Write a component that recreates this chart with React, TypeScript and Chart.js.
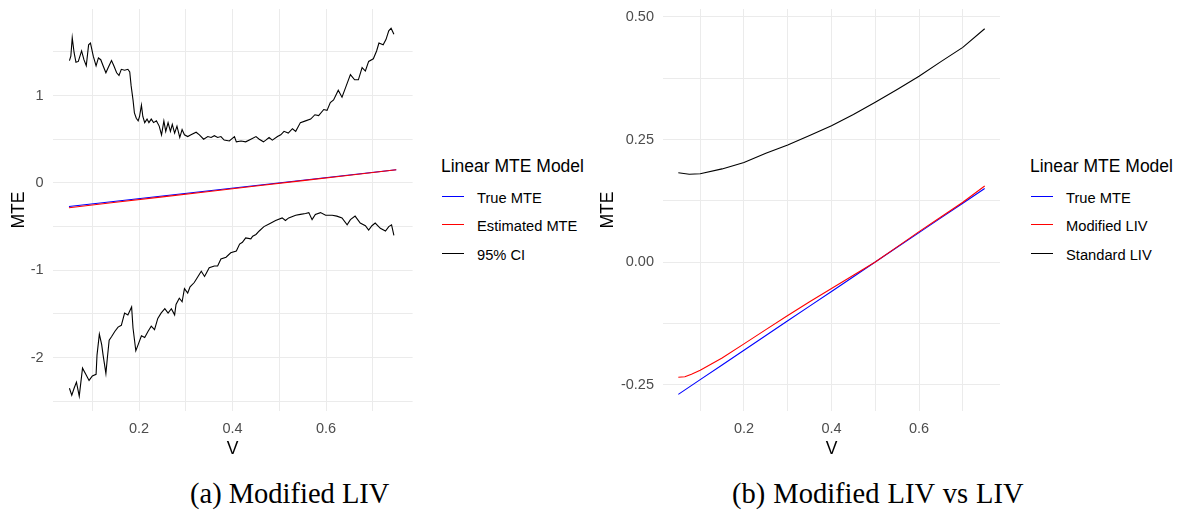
import React, { useEffect, useRef } from "react";
import { Chart, registerables } from "chart.js";

Chart.register(...registerables);

// ---------- Panel (a): Modified LIV ----------
const A_TRUE_V = [0.05, 0.15, 0.25, 0.35, 0.45, 0.55, 0.65, 0.75];
const A_TRUE_MTE = [-0.27, -0.21, -0.15, -0.09, -0.03, 0.03, 0.09, 0.15];
const A_EST_V = [0.05, 0.15, 0.25, 0.35, 0.45, 0.55, 0.65, 0.75];
const A_EST_MTE = [-0.285, -0.222, -0.16, -0.098, -0.036, 0.026, 0.088, 0.15];

const A_UPPER_V = [
  0.051, 0.054, 0.057, 0.061, 0.065, 0.07, 0.077, 0.082, 0.087, 0.092, 0.096, 0.102, 0.108, 0.113,
  0.118, 0.123, 0.129, 0.134, 0.141, 0.146, 0.152, 0.157, 0.162, 0.169, 0.176, 0.18, 0.183, 0.187,
  0.19, 0.194, 0.198, 0.201, 0.205, 0.208, 0.212, 0.217, 0.221, 0.226, 0.231, 0.237, 0.243, 0.248,
  0.253, 0.257, 0.262, 0.267, 0.271, 0.276, 0.281, 0.287, 0.292, 0.297, 0.304, 0.311, 0.322, 0.329,
  0.338, 0.347, 0.354, 0.361, 0.368, 0.375, 0.382, 0.393, 0.404, 0.408, 0.418, 0.428, 0.439, 0.45,
  0.457, 0.466, 0.471, 0.478, 0.485, 0.496, 0.503, 0.51, 0.519, 0.528, 0.535, 0.545, 0.556, 0.567,
  0.576, 0.584, 0.595, 0.602, 0.609, 0.616, 0.626, 0.634, 0.643, 0.652, 0.661, 0.669, 0.677, 0.684,
  0.691, 0.701, 0.708, 0.713, 0.722, 0.728, 0.734, 0.739, 0.745,
];
const A_UPPER_CI = [
  1.4, 1.45, 1.66, 1.49, 1.38, 1.39, 1.51, 1.41, 1.34, 1.58, 1.6, 1.45, 1.34, 1.43,
  1.41, 1.34, 1.26, 1.32, 1.4, 1.34, 1.26, 1.23, 1.3, 1.29, 1.3, 1.27, 1.11, 0.95,
  0.8, 0.74, 0.71, 0.76, 0.89, 0.76, 0.69, 0.73, 0.69, 0.73, 0.69, 0.71, 0.65, 0.55,
  0.71, 0.59, 0.69, 0.59, 0.67, 0.57, 0.65, 0.52, 0.61, 0.55, 0.53, 0.55, 0.58, 0.55,
  0.5, 0.53, 0.52, 0.54, 0.52, 0.53, 0.49, 0.48, 0.53, 0.47, 0.48, 0.47, 0.5, 0.53,
  0.5, 0.47, 0.49, 0.52, 0.49, 0.53, 0.55, 0.59, 0.57, 0.62, 0.59, 0.69, 0.71, 0.73,
  0.78, 0.77, 0.84, 0.83, 0.92, 0.95, 1.06, 0.98, 1.11, 1.24, 1.18, 1.18, 1.32, 1.28,
  1.39, 1.42, 1.51, 1.6, 1.58, 1.64, 1.74, 1.77, 1.7,
];

const A_LOWER_V = [
  0.051, 0.056, 0.061, 0.066, 0.072, 0.079, 0.086, 0.093, 0.1, 0.108, 0.11, 0.115, 0.12, 0.123,
  0.129, 0.132, 0.136, 0.141, 0.148, 0.155, 0.162, 0.169, 0.176, 0.184, 0.187, 0.193, 0.198, 0.205,
  0.212, 0.219, 0.226, 0.233, 0.24, 0.247, 0.255, 0.262, 0.269, 0.276, 0.279, 0.286, 0.292, 0.297,
  0.304, 0.309, 0.318, 0.326, 0.333, 0.34, 0.35, 0.361, 0.368, 0.375, 0.386, 0.396, 0.408, 0.415,
  0.421, 0.428, 0.439, 0.443, 0.45, 0.457, 0.467, 0.478, 0.492, 0.506, 0.513, 0.52, 0.535, 0.545,
  0.556, 0.563, 0.57, 0.577, 0.588, 0.599, 0.613, 0.623, 0.634, 0.645, 0.652, 0.662, 0.673, 0.684,
  0.691, 0.698, 0.705, 0.716, 0.727, 0.734, 0.74, 0.745,
];
const A_LOWER_CI = [
  -2.35, -2.43, -2.35, -2.28, -2.44, -2.12, -2.19, -2.26, -2.21, -2.19, -1.97, -1.73, -1.85, -1.97,
  -2.18, -2.01, -1.8, -1.76, -1.7, -1.65, -1.63, -1.49, -1.51, -1.42, -1.66, -1.92, -1.85, -1.75,
  -1.77, -1.7, -1.64, -1.68, -1.55, -1.49, -1.44, -1.49, -1.44, -1.51, -1.39, -1.32, -1.36, -1.21,
  -1.26, -1.19, -1.14, -1.07, -1.01, -1.07, -0.97, -0.95, -0.95, -0.87, -0.85, -0.8, -0.78, -0.7,
  -0.68, -0.63, -0.64, -0.61, -0.59, -0.55, -0.5, -0.47, -0.43, -0.4, -0.43, -0.4, -0.37, -0.36,
  -0.35, -0.34, -0.42, -0.36, -0.34, -0.37, -0.37, -0.38, -0.4, -0.48, -0.42, -0.38, -0.46, -0.49,
  -0.54, -0.49, -0.46, -0.52, -0.55, -0.5, -0.48, -0.6,
];

const A_X_TICKS = [0.1, 0.2, 0.3, 0.4, 0.5, 0.6, 0.7];
const A_X_LABELS = ["", "0.2", "", "0.4", "", "0.6", ""];
const A_Y_TICKS = [-2.5, -2, -1.5, -1, -0.5, 0, 0.5, 1, 1.5];
const A_Y_LABELS = ["", "-2", "", "-1", "", "0", "", "1", ""];
const A_LEGEND = ["True MTE", "Estimated MTE", "95% CI"];

// ---------- Panel (b): Modified LIV vs LIV ----------
const B_TRUE_V = [0.05, 0.1, 0.15, 0.2, 0.25, 0.3, 0.35, 0.4, 0.45, 0.5, 0.55, 0.6, 0.65, 0.7, 0.75];
const B_TRUE_MTE = [-0.27, -0.24, -0.21, -0.18, -0.15, -0.12, -0.09, -0.06, -0.03, 0, 0.03, 0.06, 0.09, 0.12, 0.15];
const B_MOD_V = [0.05, 0.065, 0.08, 0.1, 0.15, 0.2, 0.25, 0.3, 0.35, 0.4, 0.45, 0.5, 0.55, 0.6, 0.65, 0.7, 0.75];
const B_MOD_LIV = [-0.235, -0.234, -0.229, -0.221, -0.196, -0.167, -0.138, -0.109, -0.081, -0.054, -0.027, 0.0, 0.031, 0.062, 0.092, 0.122, 0.155];
const B_STD_V = [0.05, 0.075, 0.1, 0.15, 0.2, 0.25, 0.3, 0.35, 0.4, 0.45, 0.5, 0.55, 0.6, 0.65, 0.7, 0.75];
const B_STD_LIV = [0.182, 0.179, 0.18, 0.19, 0.203, 0.222, 0.239, 0.258, 0.278, 0.301, 0.326, 0.352, 0.379, 0.409, 0.438, 0.476];

const B_X_TICKS = [0.1, 0.2, 0.3, 0.4, 0.5, 0.6, 0.7];
const B_X_LABELS = ["", "0.2", "", "0.4", "", "0.6", ""];
const B_Y_TICKS = [-0.25, -0.125, 0, 0.125, 0.25, 0.375, 0.5];
const B_Y_LABELS = ["-0.25", "", "0.00", "", "0.25", "", "0.50"];
const B_LEGEND = ["True MTE", "Modified LIV", "Standard LIV"];

const LEGEND_TITLE = "Linear MTE Model";
const CAPTION_A = "(a) Modified LIV";
const CAPTION_B = "(b) Modified LIV vs LIV";

const BLUE = "#0000FF";
const RED = "#FF0000";
const BLACK = "#000000";
const GRID = "#EBEBEB";
const TICK_COLOR = "#4D4D4D";
const SANS = '"Liberation Sans", Arial, sans-serif';
const SERIF = '"Liberation Serif", "Times New Roman", serif';

const pts = (xs: number[], ys: number[]) => xs.map((x, i) => ({ x, y: ys[i] }));

const line = (label: string, data: any[], color: string, order: number) => ({
  label,
  data,
  borderColor: color,
  backgroundColor: color,
  borderWidth: 1.1,
  pointRadius: 0,
  showLine: true,
  tension: 0,
  order,
});

type PlotProps = {
  left: number;
  width: number;
  axisWidth: number;
  padRight: number;
  yTitlePad: number;
  datasets: any[];
  xRange: [number, number];
  yRange: [number, number];
  xTicks: number[];
  xLabels: string[];
  yTicks: number[];
  yLabels: string[];
};

const CANVAS_H = 460;
const AREA_TOP = 9;
const AREA_BOTTOM = 411;

function Plot(p: PlotProps) {
  const ref = useRef<HTMLCanvasElement | null>(null);
  useEffect(() => {
    if (!ref.current) return;
    const tickFont = { family: SANS, size: 14.5 };
    const titleFont = { family: SANS, size: 17.5 };
    const chart = new Chart(ref.current, {
      type: "scatter",
      data: { datasets: p.datasets },
      options: {
        animation: false,
        responsive: false,
        devicePixelRatio: 1,
        layout: { padding: { top: AREA_TOP, right: p.padRight, left: 0, bottom: 0 } },
        plugins: { legend: { display: false }, tooltip: { enabled: false } },
        scales: {
          x: {
            type: "linear",
            min: p.xRange[0],
            max: p.xRange[1],
            afterBuildTicks: (s: any) => {
              s.ticks = p.xTicks.map((v) => ({ value: v }));
            },
            afterFit: (s: any) => {
              s.height = CANVAS_H - AREA_BOTTOM;
              s.paddingLeft = 0;
              s.paddingRight = 0;
            },
            ticks: {
              autoSkip: false,
              maxRotation: 0,
              padding: 9,
              color: TICK_COLOR,
              font: tickFont,
              callback: (_v: any, i: number) => p.xLabels[i],
            },
            grid: { color: GRID, lineWidth: 1, drawTicks: false },
            border: { display: false },
            title: { display: true, text: "V", color: BLACK, font: titleFont, padding: { top: 0, bottom: 0 } },
          },
          y: {
            type: "linear",
            min: p.yRange[0],
            max: p.yRange[1],
            afterBuildTicks: (s: any) => {
              s.ticks = p.yTicks.map((v) => ({ value: v }));
            },
            afterFit: (s: any) => {
              s.width = p.axisWidth;
              s.paddingTop = 0;
              s.paddingBottom = 0;
            },
            ticks: {
              autoSkip: false,
              padding: 9,
              color: TICK_COLOR,
              font: tickFont,
              callback: (_v: any, i: number) => p.yLabels[i],
            },
            grid: { color: GRID, lineWidth: 1, drawTicks: false },
            border: { display: false },
            title: { display: true, text: "MTE", color: BLACK, font: titleFont, padding: { top: p.yTitlePad, bottom: 0 } },
          },
        },
      } as any,
    });
    return () => chart.destroy();
  }, []);
  return (
    <canvas
      ref={ref}
      width={p.width}
      height={CANVAS_H}
      style={{ position: "absolute", left: p.left, top: 0, width: p.width, height: CANVAS_H }}
    />
  );
}

function Legend({ left, items }: { left: number; items: string[] }) {
  const colors = [BLUE, RED, BLACK];
  const tops = [190.9, 219.3, 247.6];
  const lineYs = [196, 224, 253];
  return (
    <div style={{ position: "absolute", left: 0, top: 0 }}>
      <div
        style={{
          position: "absolute",
          left: left,
          top: 157.5,
          fontFamily: SANS,
          fontSize: 17.5,
          lineHeight: 1,
          whiteSpace: "nowrap",
          color: "#000",
        }}
      >
        {LEGEND_TITLE}
      </div>
      {items.map((t, i) => (
        <React.Fragment key={t}>
          <div
            style={{
              position: "absolute",
              left: left + 1,
              top: lineYs[i],
              width: 22,
              height: 1,
              background: colors[i],
            }}
          />
          <div
            style={{
              position: "absolute",
              left: left + 36,
              top: tops[i],
              fontFamily: SANS,
              fontSize: 14.7,
              lineHeight: 1,
              whiteSpace: "nowrap",
              color: "#000",
            }}
          >
            {t}
          </div>
        </React.Fragment>
      ))}
    </div>
  );
}

export default function App() {
  const aSets = [
    line("True MTE", pts(A_TRUE_V, A_TRUE_MTE), BLUE, 1),
    line("Estimated MTE", pts(A_EST_V, A_EST_MTE), RED, 0),
    line("95% CI", pts(A_UPPER_V, A_UPPER_CI), BLACK, 2),
    line("95% CI", pts(A_LOWER_V, A_LOWER_CI), BLACK, 2),
  ];
  const bSets = [
    line("True MTE", pts(B_TRUE_V, B_TRUE_MTE), BLUE, 1),
    line("Modified LIV", pts(B_MOD_V, B_MOD_LIV), RED, 0),
    line("Standard LIV", pts(B_STD_V, B_STD_LIV), BLACK, 2),
  ];
  const captionStyle: React.CSSProperties = {
    position: "absolute",
    top: 480,
    fontFamily: SERIF,
    fontSize: 28.5,
    lineHeight: 1,
    whiteSpace: "nowrap",
    color: "#000",
  };
  return (
    <div
      style={{
        position: "absolute",
        left: 0,
        top: 0,
        width: 1181,
        height: 513,
        background: "#fff",
        overflow: "hidden",
      }}
    >
      <Plot
        left={0}
        width={420}
        axisWidth={52.6}
        padRight={7.4}
        yTitlePad={8.5}
        datasets={aSets}
        xRange={[0.015, 0.785]}
        yRange={[-2.61, 1.99]}
        xTicks={A_X_TICKS}
        xLabels={A_X_LABELS}
        yTicks={A_Y_TICKS}
        yLabels={A_Y_LABELS}
      />
      <Plot
        left={590}
        width={420}
        axisWidth={73}
        padRight={10}
        yTitlePad={7.5}
        datasets={bSets}
        xRange={[0.015, 0.785]}
        yRange={[-0.304, 0.5163]}
        xTicks={B_X_TICKS}
        xLabels={B_X_LABELS}
        yTicks={B_Y_TICKS}
        yLabels={B_Y_LABELS}
      />
      <Legend left={441} items={A_LEGEND} />
      <Legend left={1030} items={B_LEGEND} />
      <div style={{ ...captionStyle, left: 190 }}>{CAPTION_A}</div>
      <div style={{ ...captionStyle, left: 732, wordSpacing: 1 }}>{CAPTION_B}</div>
    </div>
  );
}
